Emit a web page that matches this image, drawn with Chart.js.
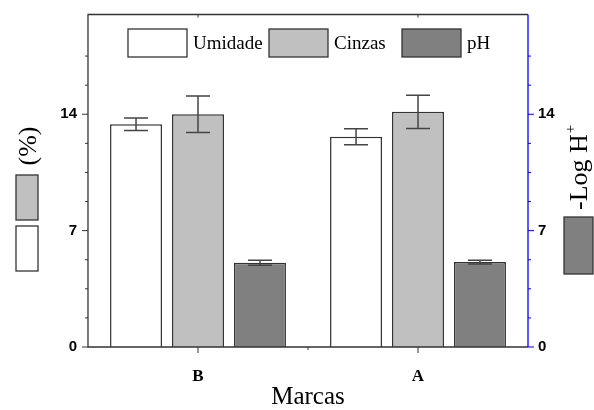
<!DOCTYPE html>
<html>
<head>
<meta charset="utf-8">
<script src="https://cdn.jsdelivr.net/npm/chart.js@4"></script>
<style>
  html, body { margin: 0; padding: 0; background: #fff; }
  canvas { display: block; }
</style>
</head>
<body>
<canvas id="chart" width="594" height="410"></canvas>
<script>
// dados
const marcas = ['B', 'A'];
const umidade = [13.4, 12.65];
const umidadeErr = [0.38, 0.48];
const cinzas = [14.0, 14.15];
const cinzasErr = [1.1, 1.0];
const ph = [5.07, 5.11];
const phErr = [0.15, 0.11];
const yTicksLabel = [0, 7, 14];

const SERIF = "'Liberation Serif', 'Times New Roman', serif";
const SANS = "'Liberation Sans', Arial, sans-serif";
const EDGE = '#333';

const errors = [umidadeErr, cinzasErr, phErr];

const errorBars = {
  id: 'errorBars',
  afterDatasetsDraw(chart) {
    const { ctx } = chart;
    ctx.save();
    ctx.strokeStyle = '#444';
    ctx.lineWidth = 1.5;
    chart.data.datasets.forEach((ds, di) => {
      const meta = chart.getDatasetMeta(di);
      const yScale = chart.scales[meta.yAxisID];
      meta.data.forEach((bar, i) => {
        const v = ds.data[i];
        const e = errors[di][i];
        const yHi = yScale.getPixelForValue(v + e);
        const yLo = yScale.getPixelForValue(v - e);
        const half = 12;
        ctx.beginPath();
        ctx.moveTo(bar.x, yHi); ctx.lineTo(bar.x, yLo);
        ctx.moveTo(bar.x - half, yHi); ctx.lineTo(bar.x + half, yHi);
        ctx.moveTo(bar.x - half, yLo); ctx.lineTo(bar.x + half, yLo);
        ctx.stroke();
      });
    });
    ctx.restore();
  }
};

const frame = {
  id: 'frame',
  afterDraw(chart) {
    const { ctx, chartArea: a, scales } = chart;
    ctx.save();

    // eixos
    ctx.lineWidth = 1.3;
    ctx.strokeStyle = EDGE;
    ctx.beginPath();
    ctx.moveTo(a.right, a.top); ctx.lineTo(a.left, a.top);
    ctx.lineTo(a.left, a.bottom); ctx.lineTo(a.right, a.bottom);
    ctx.stroke();
    ctx.strokeStyle = '#0000ff';
    ctx.beginPath();
    ctx.moveTo(a.right, a.top); ctx.lineTo(a.right, a.bottom);
    ctx.stroke();

    // ticks y
    ctx.lineWidth = 1;
    scales.y.ticks.forEach(t => {
      if (Math.abs(t.value / 1.75 - Math.round(t.value / 1.75)) > 1e-6) return;
      const y = scales.y.getPixelForValue(t.value);
      const len = yTicksLabel.includes(t.value) ? 6 : 3;
      ctx.strokeStyle = EDGE;
      ctx.beginPath(); ctx.moveTo(a.left - len, y); ctx.lineTo(a.left, y); ctx.stroke();
      ctx.strokeStyle = '#0000ff';
      ctx.beginPath(); ctx.moveTo(a.right, y); ctx.lineTo(a.right + len, y); ctx.stroke();
    });

    // ticks x
    ctx.strokeStyle = EDGE;
    const xs = marcas.map((m, i) => scales.x.getPixelForValue(i));
    xs.forEach(x => {
      ctx.beginPath(); ctx.moveTo(x, a.bottom); ctx.lineTo(x, a.bottom + 6); ctx.stroke();
      ctx.beginPath(); ctx.moveTo(x, a.top); ctx.lineTo(x, a.top + 3); ctx.stroke();
    });
    for (let i = 0; i < xs.length - 1; i++) {
      const x = (xs[i] + xs[i + 1]) / 2;
      ctx.beginPath(); ctx.moveTo(x, a.bottom); ctx.lineTo(x, a.bottom + 3); ctx.stroke();
    }

    // legenda
    const ds = chart.data.datasets;
    const boxX = [128, 269, 402];
    ctx.font = '19px ' + SERIF;
    ctx.textBaseline = 'middle';
    ctx.textAlign = 'left';
    ds.forEach((d, i) => {
      ctx.fillStyle = d.backgroundColor;
      ctx.fillRect(boxX[i], 29, 59, 28);
      ctx.strokeStyle = EDGE;
      ctx.lineWidth = 1.3;
      ctx.strokeRect(boxX[i], 29, 59, 28);
      ctx.fillStyle = '#000';
      ctx.fillText(d.label, boxX[i] + 65, 44);
    });

    // titulo x
    ctx.font = '25px ' + SERIF;
    ctx.textAlign = 'center';
    ctx.textBaseline = 'alphabetic';
    ctx.fillText('Marcas', (a.left + a.right) / 2, 404);

    // titulo y esquerdo
    ctx.save();
    ctx.translate(36, 146);
    ctx.rotate(-Math.PI / 2);
    ctx.font = '26px ' + SERIF;
    ctx.fillText('(%)', 0, 0);
    ctx.restore();

    ctx.lineWidth = 1.3;
    ctx.strokeStyle = EDGE;
    ctx.fillStyle = ds[1].backgroundColor;
    ctx.fillRect(16, 175, 22, 45); ctx.strokeRect(16, 175, 22, 45);
    ctx.fillStyle = ds[0].backgroundColor;
    ctx.fillRect(16, 226, 22, 45); ctx.strokeRect(16, 226, 22, 45);

    // titulo y direito
    ctx.save();
    ctx.translate(587, 210);
    ctx.rotate(-Math.PI / 2);
    ctx.fillStyle = '#000';
    ctx.textAlign = 'left';
    ctx.font = '26px ' + SERIF;
    ctx.fillText('-Log H', 0, 0);
    const w = ctx.measureText('-Log H').width;
    ctx.font = '15px ' + SERIF;
    ctx.fillText('+', w + 1, -12);
    ctx.restore();

    ctx.fillStyle = ds[2].backgroundColor;
    ctx.fillRect(564, 217, 29, 57); ctx.strokeRect(564, 217, 29, 57);

    ctx.restore();
  }
};

const barOpts = {
  borderColor: EDGE,
  borderWidth: 1.5,
  borderSkipped: 'start',
  categoryPercentage: 0.845,
  barPercentage: 0.839
};

function fitY(width) {
  return s => {
    s.width = width;
    s.paddingTop = 0;
    s.paddingBottom = 0;
  };
}

new Chart(document.getElementById('chart'), {
  type: 'bar',
  data: {
    labels: marcas,
    datasets: [
      { label: 'Umidade', data: umidade, backgroundColor: '#ffffff', yAxisID: 'y', ...barOpts },
      { label: 'Cinzas', data: cinzas, backgroundColor: '#c0c0c0', yAxisID: 'y', ...barOpts },
      { label: 'pH', data: ph, backgroundColor: '#808080', yAxisID: 'y1', ...barOpts }
    ]
  },
  options: {
    responsive: false,
    animation: false,
    devicePixelRatio: 1,
    layout: { padding: { top: 14.5, left: 0, right: 0, bottom: 0 } },
    plugins: { legend: { display: false }, tooltip: { enabled: false } },
    scales: {
      x: {
        grid: { display: false, drawTicks: false },
        border: { display: false },
        ticks: {
          padding: 19, autoSkip: false, maxRotation: 0, color: '#000',
          font: { family: SERIF, weight: 'bold', size: 17 }
        },
        afterFit(s) { s.height = 63; s.paddingLeft = 0; s.paddingRight = 0; }
      },
      y: {
        position: 'left', min: 0, max: 20,
        grid: { display: false, drawTicks: false },
        border: { display: false },
        ticks: {
          stepSize: 1.75, padding: 11, color: '#000',
          font: { family: SANS, weight: 'bold', size: 15 },
          callback: v => yTicksLabel.includes(v) ? v : ''
        },
        afterFit: fitY(88)
      },
      y1: {
        position: 'right', min: 0, max: 20,
        grid: { display: false, drawTicks: false },
        border: { display: false },
        ticks: {
          stepSize: 1.75, padding: 10, color: '#000',
          font: { family: SANS, weight: 'bold', size: 15 },
          callback: v => yTicksLabel.includes(v) ? v : ''
        },
        afterFit: fitY(66)
      }
    }
  },
  plugins: [errorBars, frame]
});
</script>
</body>
</html>
